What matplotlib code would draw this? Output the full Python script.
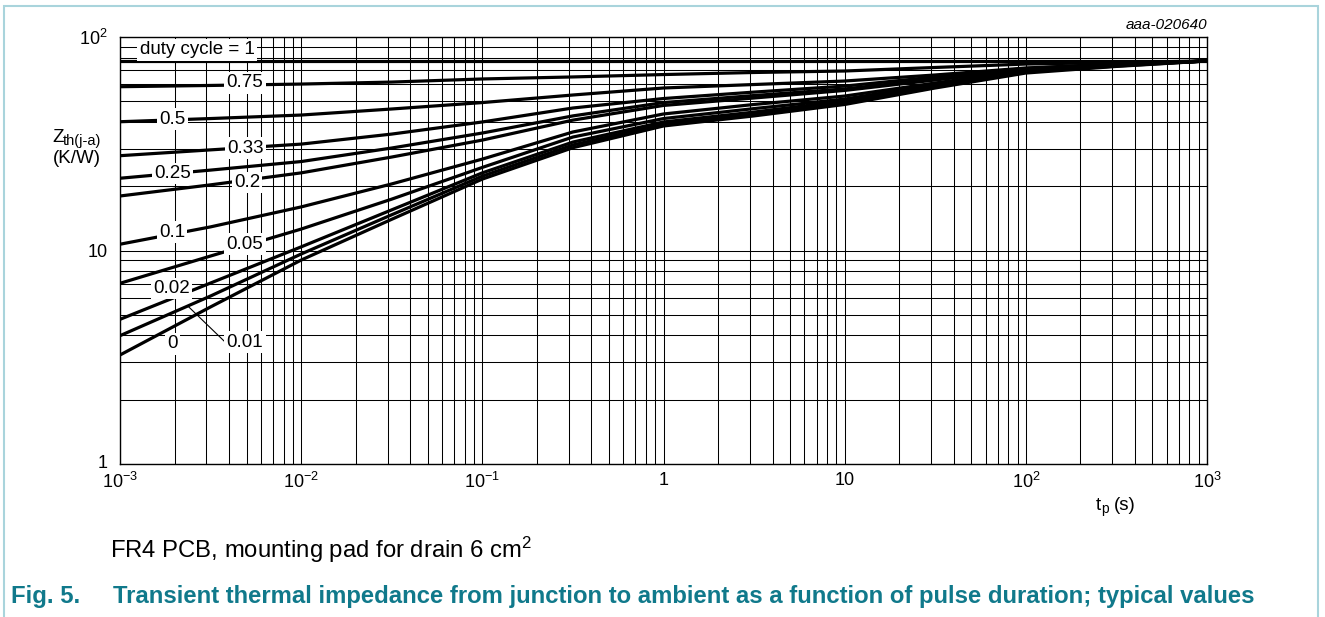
import matplotlib
matplotlib.use('Agg')
import matplotlib.pyplot as plt
import matplotlib.transforms as mtransforms
from matplotlib.ticker import LogLocator, NullFormatter, FixedLocator, FixedFormatter
from matplotlib.patches import Rectangle

plt.rcParams['font.family'] = ['Liberation Sans', 'DejaVu Sans']
plt.rcParams['mathtext.fontset'] = 'custom'
plt.rcParams['mathtext.rm'] = 'Liberation Sans'
plt.rcParams['mathtext.it'] = 'Liberation Sans:italic'
plt.rcParams['mathtext.bf'] = 'Liberation Sans:bold'

# ---------------- data ----------------
tp = [1e-3, 3.16e-3, 1e-2, 3.16e-2, 1e-1, 0.316, 1, 3.16, 10, 31.6, 100, 316, 1000]

z_1    = [77.2, 77.2, 77.2, 77.2, 77.2, 77.2, 77.2, 77.2, 77.2, 77.2, 77.2, 77.2, 77.2]
z_075  = [58.5, 59.3, 60.2, 61.5, 63.6, 65.0, 66.7, 68.2, 69.3, 72.0, 74.7, 76.0, 77.2]
z_05   = [40.1, 41.5, 43.1, 46.0, 49.3, 53.5, 57.7, 59.9, 62.2, 66.4, 71.6, 74.7, 77.2]
z_033  = [27.8, 29.6, 31.5, 35.1, 40.0, 46.5, 51.5, 55.2, 58.9, 65.0, 71.2, 74.7, 77.2]
z_025  = [21.8, 23.8, 26.1, 30.2, 35.5, 42.7, 49.3, 53.2, 57.1, 63.6, 70.8, 74.3, 77.2]
z_02   = [18.0, 20.3, 23.1, 27.4, 32.9, 40.8, 47.8, 51.8, 56.2, 62.9, 70.4, 74.3, 77.2]
z_01   = [10.7, 12.9, 16.0, 20.5, 26.8, 35.9, 43.6, 48.3, 52.9, 60.9, 69.7, 73.9, 77.2]
z_005  = [7.02, 9.42, 12.6, 17.4, 24.5, 34.0, 41.5, 46.2, 51.2, 59.9, 69.3, 73.9, 77.2]
z_002  = [4.76, 7.04, 10.4, 15.5, 23.1, 32.2, 40.0, 44.5, 50.2, 58.9, 68.9, 73.6, 77.2]
z_001  = [3.99, 6.12, 9.63, 14.7, 22.3, 31.2, 39.1, 43.6, 49.1, 58.3, 68.6, 73.1, 77.2]
z_0    = [3.24, 5.44, 9.02, 14.0, 21.6, 30.3, 38.3, 42.7, 48.3, 57.7, 67.8, 72.8, 77.2]

curves = [z_1, z_075, z_05, z_033, z_025, z_02, z_01, z_005, z_002, z_001, z_0]

lab_text = ['duty cycle = 1', '0.75', '0.5', '0.33', '0.25', '0.2',
            '0.1', '0.05', '0.02', '0', '0.01']
lab_x = [2.66e-3, 4.9e-3, 1.94e-3, 4.9e-3, 1.94e-3, 5.02e-3,
         1.94e-3, 4.9e-3, 1.92e-3, 1.94e-3, 4.9e-3]
lab_y = [87.0, 61.0, 41.2, 30.2, 22.9, 20.8, 12.2, 10.7, 6.63, 3.65, 3.72]

leader_x = [2.37e-3, 3.8e-3]
leader_y = [5.49, 3.73]

xtick_vals = [1e-3, 1e-2, 1e-1, 1, 10, 100, 1000]
xtick_labels = [r'$\mathregular{10^{-3}}$', r'$\mathregular{10^{-2}}$', r'$\mathregular{10^{-1}}$',
                '1', '10', r'$\mathregular{10^{2}}$', r'$\mathregular{10^{3}}$']
ytick_vals = [1, 10, 100]
ytick_labels = ['1', '10', r'$\mathregular{10^{2}}$']

# ---------------- figure ----------------
W, H = 1325, 617
fig = plt.figure(figsize=(W / 100, H / 100), dpi=100)
fig.patch.set_facecolor('white')

L, R, T, B = 120, 1207, 37, 464
ax = fig.add_axes([L / W, 1 - B / H, (R - L) / W, (B - T) / H])
ax.set_xscale('log')
ax.set_yscale('log')
ax.set_xlim(1e-3, 1e3)
ax.set_ylim(1, 100)

ax.xaxis.set_major_locator(FixedLocator(xtick_vals))
ax.xaxis.set_major_formatter(FixedFormatter(xtick_labels))
ax.yaxis.set_major_locator(FixedLocator(ytick_vals))
ax.yaxis.set_major_formatter(FixedFormatter(ytick_labels))
ax.xaxis.set_minor_locator(LogLocator(base=10, subs=range(2, 10), numticks=20))
ax.yaxis.set_minor_locator(LogLocator(base=10, subs=range(2, 10), numticks=20))
ax.xaxis.set_minor_formatter(NullFormatter())
ax.yaxis.set_minor_formatter(NullFormatter())

ax.grid(True, which='both', color='black', lw=0.75)
ax.set_axisbelow(True)
ax.tick_params(which='both', length=0)
ax.tick_params(axis='x', labelsize=13, pad=6)
ax.tick_params(axis='y', labelsize=13, pad=9)
for s in ax.spines.values():
    s.set_linewidth(1.0)
    s.set_color('black')

for z in curves:
    ax.plot(tp, z, color='black', lw=2.3, solid_capstyle='butt', zorder=3)

ax.plot(leader_x, leader_y, color='black', lw=0.8, zorder=3)

for t, x, y in zip(lab_text, lab_x, lab_y):
    ax.text(x, y, t, fontsize=13.5, ha='center', va='center', zorder=5,
            bbox=dict(boxstyle='square,pad=0.12', fc='white', ec='none'))

# axis titles
fig.text(52 / W, 1 - 142 / H, 'Z', fontsize=13.5, ha='left', va='baseline')
fig.text(62.5 / W, 1 - 145.5 / H, 'th(j-a)', fontsize=10.5, ha='left', va='baseline')
fig.text(77 / W, 1 - 163 / H, '(K/W)', fontsize=13.5, ha='center', va='baseline')
fig.text(1096 / W, 1 - 510 / H, 't', fontsize=13.5, ha='left', va='baseline')
fig.text(1101 / W, 1 - 513 / H, 'p', fontsize=10, ha='left', va='baseline')
fig.text(1114 / W, 1 - 510 / H, '(s)', fontsize=13.5, ha='left', va='baseline')
fig.text(1207 / W, 1 - 25 / H, 'aaa-020640', fontsize=11, style='italic', ha='right', va='center')

# captions
fig.text(110 / W, 1 - 558 / H, r'FR4 PCB, mounting pad for drain 6 cm$^{\mathregular{2}}$',
         fontsize=17.2, ha='left', va='baseline')
teal = '#10798b'
fig.text(11 / W, 1 - 603 / H, 'Fig. 5.', fontsize=17.2, fontweight='bold', color=teal,
         ha='left', va='baseline')
fig.text(113 / W, 1 - 603 / H,
         'Transient thermal impedance from junction to ambient as a function of pulse duration; typical values',
         fontsize=17.2, fontweight='bold', color=teal, ha='left', va='baseline')

# outer frame
fig.patches.append(Rectangle((4 / W, -0.05), (1318 - 4) / W, (1 - 6 / H) + 0.05,
                             transform=fig.transFigure, fill=False, ec='#a9d4dc', lw=1.5))

# nudge the lowest y tick label ("1") up a little, as in the reference
fig.canvas.draw()
lab1 = ax.yaxis.get_major_ticks()[0].label1
lab1.set_transform(lab1.get_transform() +
                   mtransforms.ScaledTranslation(0, 3 / 100, fig.dpi_scale_trans))

fig.savefig('out.png', dpi=100)
